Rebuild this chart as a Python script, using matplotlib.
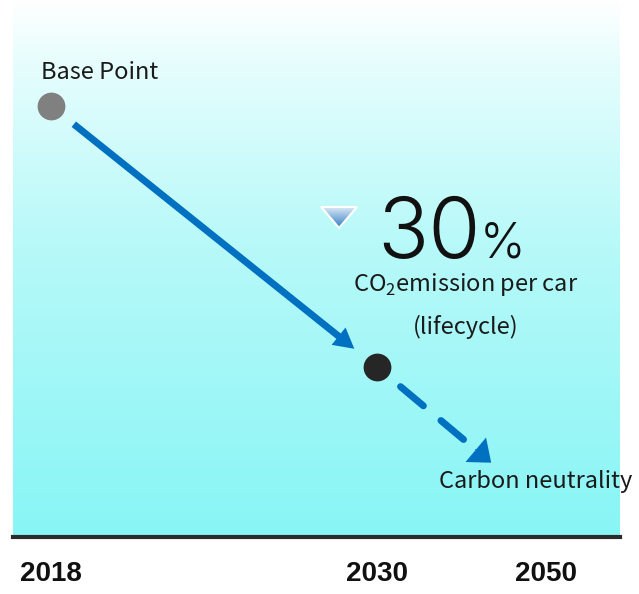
import numpy as np
import matplotlib.pyplot as plt
from matplotlib.colors import LinearSegmentedColormap
from matplotlib.patches import Polygon

# data (schematic roadmap)
years = ["2018", "2030", "2050"]
emission_index = [100, 70]       # CO2 per car, base point = 100
reduction_pct = 30               # cut by 2030
neutral_level = 59               # end of the dashed "carbon neutrality" arrow
point_labels = ["Base Point", "Carbon neutrality"]

# timeline is squeezed after 2030
year_pos = [0, 12, 18.2]
neutral_pos = 16.2

BLUE = "#0070c0"
sans = ["Noto Sans CJK JP", "DejaVu Sans"]

plt.rcParams["mathtext.fontset"] = "custom"
plt.rcParams["mathtext.rm"] = "Noto Sans CJK JP"

fig = plt.figure(figsize=(6.39, 5.94), dpi=100)
ax = fig.add_axes([13 / 639, 57 / 594, 607 / 639, 537 / 594])
ax.set_xlim(-1.40, 20.94)
ax.set_ylim(50.46, 112.18)

# background gradient
bg = LinearSegmentedColormap.from_list(
    "bg", [(0, "#ffffff"), (0.12, "#e6fdfd"), (0.45, "#b8f9f9"), (1, "#88f5f5")])
grad = np.linspace(0, 1, 256).reshape(-1, 1)
ax.imshow(grad, extent=[0, 1, 0, 1], transform=ax.transAxes, aspect="auto",
          cmap=bg, zorder=0)

for s in ["top", "left", "right"]:
    ax.spines[s].set_visible(False)
ax.spines["bottom"].set_color("#2b2b2b")
ax.spines["bottom"].set_linewidth(3)
ax.set_yticks([])
ax.set_xticks(year_pos)
ax.set_xticklabels(years, fontsize=20, fontweight="bold", color="#111111",
                   family=["Liberation Sans", "DejaVu Sans"])
ax.tick_params(axis="x", length=0, pad=17)

# solid arrow base -> 2030
ax.annotate("", xy=(year_pos[1], emission_index[1]),
            xytext=(year_pos[0], emission_index[0]),
            arrowprops=dict(arrowstyle="simple,head_length=14.5,head_width=16,tail_width=5",
                            mutation_scale=1, color=BLUE, lw=0,
                            shrinkA=21, shrinkB=21), zorder=3)

# dashed arrow 2030 -> carbon neutrality
ax.annotate("", xy=(neutral_pos, neutral_level),
            xytext=(year_pos[1], emission_index[1]),
            arrowprops=dict(arrowstyle="-", color=BLUE, lw=5,
                            linestyle=(0, (4.3, 3.3)),
                            shrinkA=22, shrinkB=26), zorder=3)
ax.annotate("", xy=(neutral_pos, neutral_level),
            xytext=(year_pos[1], emission_index[1]),
            arrowprops=dict(arrowstyle="simple,head_length=14.5,head_width=23,tail_width=0.5",
                            mutation_scale=1, color=BLUE, lw=0,
                            shrinkA=92, shrinkB=0), zorder=3)

# points
ax.scatter(year_pos[0], emission_index[0], s=400, color="#808080", zorder=4, lw=0)
ax.scatter(year_pos[1], emission_index[1], s=400, color="#262626", zorder=4, lw=0)

ax.annotate(point_labels[0], (year_pos[0], emission_index[0]), xytext=(-7, 24),
            textcoords="offset points", ha="left", va="center",
            fontsize=17, color="#1a1a1a", family=sans)
ax.text(17.85, 56.8, point_labels[1], ha="center", va="center",
        fontsize=17, color="#1a1a1a", family=sans)

# reduction callout
big = ["Inter", "Lato", "DejaVu Sans"]
ax.text(15.8, 82.55, str(reduction_pct), ha="right", va="baseline",
        fontsize=61, fontweight=300, color="#111111", family=big)
ax.text(15.78, 82.55, "%", ha="left", va="baseline",
        fontsize=35, fontweight=300, color="#111111", family=big)
ax.text(15.27, 79.5, r"CO$_\mathregular{2}$emission per car", ha="center",
        va="center", fontsize=17, color="#1a1a1a", family=sans)
ax.text(15.27, 74.6, "(lifecycle)", ha="center", va="center",
        fontsize=17, color="#1a1a1a", family=sans)

# small gradient triangle
tri_xy = [(9.94, 88.39), (11.26, 88.39), (10.60, 85.98)]
tri = Polygon(tri_xy, closed=True, facecolor="none", edgecolor="white", lw=1.5, zorder=5)
ax.add_patch(tri)
tri_cmap = LinearSegmentedColormap.from_list("tri", ["#dce9f6", "#2f7cc4"])
img = ax.imshow(grad, extent=[9.94, 11.26, 85.98, 88.39], aspect="auto",
                cmap=tri_cmap, zorder=4)
img.set_clip_path(tri)

fig.savefig("out.png", dpi=100, facecolor="white")
